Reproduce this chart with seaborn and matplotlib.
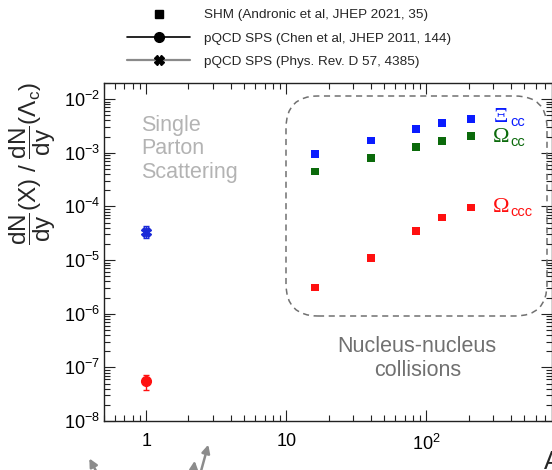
import matplotlib
matplotlib.use('Agg')
import matplotlib.pyplot as plt
import matplotlib.ticker as mticker
from matplotlib.patches import FancyBboxPatch
from matplotlib.transforms import IdentityTransform
from matplotlib.lines import Line2D
import pandas as pd
import seaborn as sns

# SHM predictions (ratio to Lambda_c) vs mass number A
A_values = [16, 40, 84, 129, 208]
xi_cc = [9.5e-4, 1.7e-3, 2.76e-3, 3.57e-3, 4.3e-3]
omega_cc = [4.5e-4, 8.0e-4, 1.28e-3, 1.65e-3, 2.05e-3]
omega_ccc = [3.1e-6, 1.1e-5, 3.5e-5, 6.2e-5, 9.5e-5]
species = ['Xi_cc', 'Omega_cc', 'Omega_ccc']
colors = ['#0a1cff', '#0b6a0b', '#ff1010']

# pQCD single parton scattering at A = 1
sps_A = [1]
sps_xi_cc = [3.4e-5]
sps_xi_cc_err = [[0.85e-5], [0.9e-5]]
sps_omega_ccc = [5.6e-8]
sps_omega_ccc_err = [[1.8e-8], [1.6e-8]]

legend_labels = ['SHM (Andronic et al, JHEP 2021, 35)',
                 'pQCD SPS (Chen et al, JHEP 2011, 144)',
                 'pQCD SPS (Phys. Rev. D 57, 4385)']

sns.set_style('ticks')
plt.rcParams['font.family'] = ['Liberation Sans', 'DejaVu Sans']
plt.rcParams['mathtext.fontset'] = 'custom'
plt.rcParams['mathtext.rm'] = 'Liberation Sans'
plt.rcParams['mathtext.it'] = 'Liberation Sans:italic'
plt.rcParams['mathtext.sf'] = 'Liberation Sans'

df = pd.DataFrame({
    'A': A_values * 3,
    'ratio': xi_cc + omega_cc + omega_ccc,
    'species': [s for s in species for _ in A_values],
})

fig = plt.figure(figsize=(5.52, 4.70), dpi=100)
ax = fig.add_axes([104 / 552, 1 - 421 / 470, 447.5 / 552, 338 / 470])

sns.scatterplot(data=df, x='A', y='ratio', hue='species', palette=colors,
                marker='s', s=30, edgecolor='none', legend=False, ax=ax, zorder=3)

ax.errorbar(sps_A, sps_xi_cc, yerr=sps_xi_cc_err, fmt='X', color='#1a2ad8',
            ms=7, elinewidth=1, capsize=2, zorder=4)
ax.errorbar(sps_A, sps_omega_ccc, yerr=sps_omega_ccc_err, fmt='o', color=colors[2],
            ms=7, elinewidth=1, capsize=2, zorder=4)

ax.set_xscale('log')
ax.set_yscale('log')
ax.set_xlim(0.5, 780)
ax.set_ylim(1e-8, 2e-2)
ax.set_xlabel('')
ax.set_ylabel('')

ax.xaxis.set_major_locator(mticker.FixedLocator([1, 10, 100]))
ax.xaxis.set_major_formatter(mticker.FixedFormatter(['1', '10', r'$10^{2}$']))
ax.xaxis.set_minor_locator(mticker.LogLocator(base=10, subs=range(2, 10), numticks=20))
ax.xaxis.set_minor_formatter(mticker.NullFormatter())
ax.yaxis.set_major_locator(mticker.LogLocator(base=10, numticks=20))
ax.yaxis.set_minor_locator(mticker.LogLocator(base=10, subs=range(2, 10), numticks=20))
ax.yaxis.set_minor_formatter(mticker.NullFormatter())

ax.tick_params(which='both', direction='in', top=True, right=True, width=0.8, colors='#222222')
ax.tick_params(which='major', length=8, labelsize=13, labelcolor='black')
ax.tick_params(which='minor', length=4)
ax.tick_params(axis='x', which='major', pad=9)
ax.tick_params(axis='y', which='major', pad=3)
for sp in ax.spines.values():
    sp.set_linewidth(1.0)
    sp.set_color('#222222')

# y label
fig.text(33 / 552, 1 - 164 / 470,
         r'$\dfrac{\mathrm{dN}}{\mathrm{dy}}$(X) / $\dfrac{\mathrm{dN}}{\mathrm{dy}}$($\Lambda_{\mathrm{c}}$)',
         rotation=90, ha='center', va='center', fontsize=17.5)
fig.text(544 / 552, 1 - 462 / 470, 'A', ha='left', va='center', fontsize=18)

# species labels: serif greek letter + sans subscript
for name, yv, sub, col in [('Ξ', 4.6e-3, 'cc', colors[0]),
                           ('Ω', 1.96e-3, 'cc', colors[1]),
                           ('Ω', 9.75e-5, 'ccc', colors[2])]:
    ax.text(300, yv, name, color=col, family='Liberation Serif', fontsize=16,
            ha='left', va='center')
    ax.annotate(sub, xy=(300, yv), xytext=(12.5, -3.5), textcoords='offset points',
                color=col, fontsize=10.5, ha='left', va='center')

ax.text(0.083, 0.805, 'Single\nParton\nScattering', transform=ax.transAxes,
        color='#b3b3b3', fontsize=15.5, ha='left', va='center', linespacing=1.15)
ax.text(0.70, 0.186, 'Nucleus-nucleus\ncollisions', transform=ax.transAxes,
        color='#707070', fontsize=15.5, ha='center', va='center', linespacing=1.2)

box = FancyBboxPatch((286, 470 - 316), 261, 220,
                     boxstyle='round,pad=0,rounding_size=32',
                     transform=IdentityTransform(), fill=False,
                     ec='#707070', lw=1.1, ls=(0, (4, 3)))
fig.add_artist(box)

# legend
handles = [
    Line2D([], [], marker='s', color='black', ls='none', ms=6),
    Line2D([], [], marker='o', color='black', lw=1.2, ms=7),
    Line2D([], [], marker='X', color='#8a8a8a', mfc='black', mec='black', lw=1.6, ms=7),
]
fig.legend(handles, legend_labels, loc='upper left', bbox_to_anchor=(127 / 552, 1 - 9 / 470),
           frameon=False, fontsize=9.7, handlelength=4.7, handletextpad=1.0,
           labelspacing=0.8, borderpad=0, borderaxespad=0)

# partial arrows at the bottom edge
for head, tail in [((88, 14), (102, -12)), ((195, 12), (192, -14)), ((209, 28), (198, -12))]:
    ax.annotate('', xy=head, xytext=tail, xycoords='figure pixels', textcoords='figure pixels',
                annotation_clip=False,
                arrowprops=dict(arrowstyle='-|>', color='#8c8c8c', lw=1.8, mutation_scale=12))

fig.savefig('out.png', dpi=100)
